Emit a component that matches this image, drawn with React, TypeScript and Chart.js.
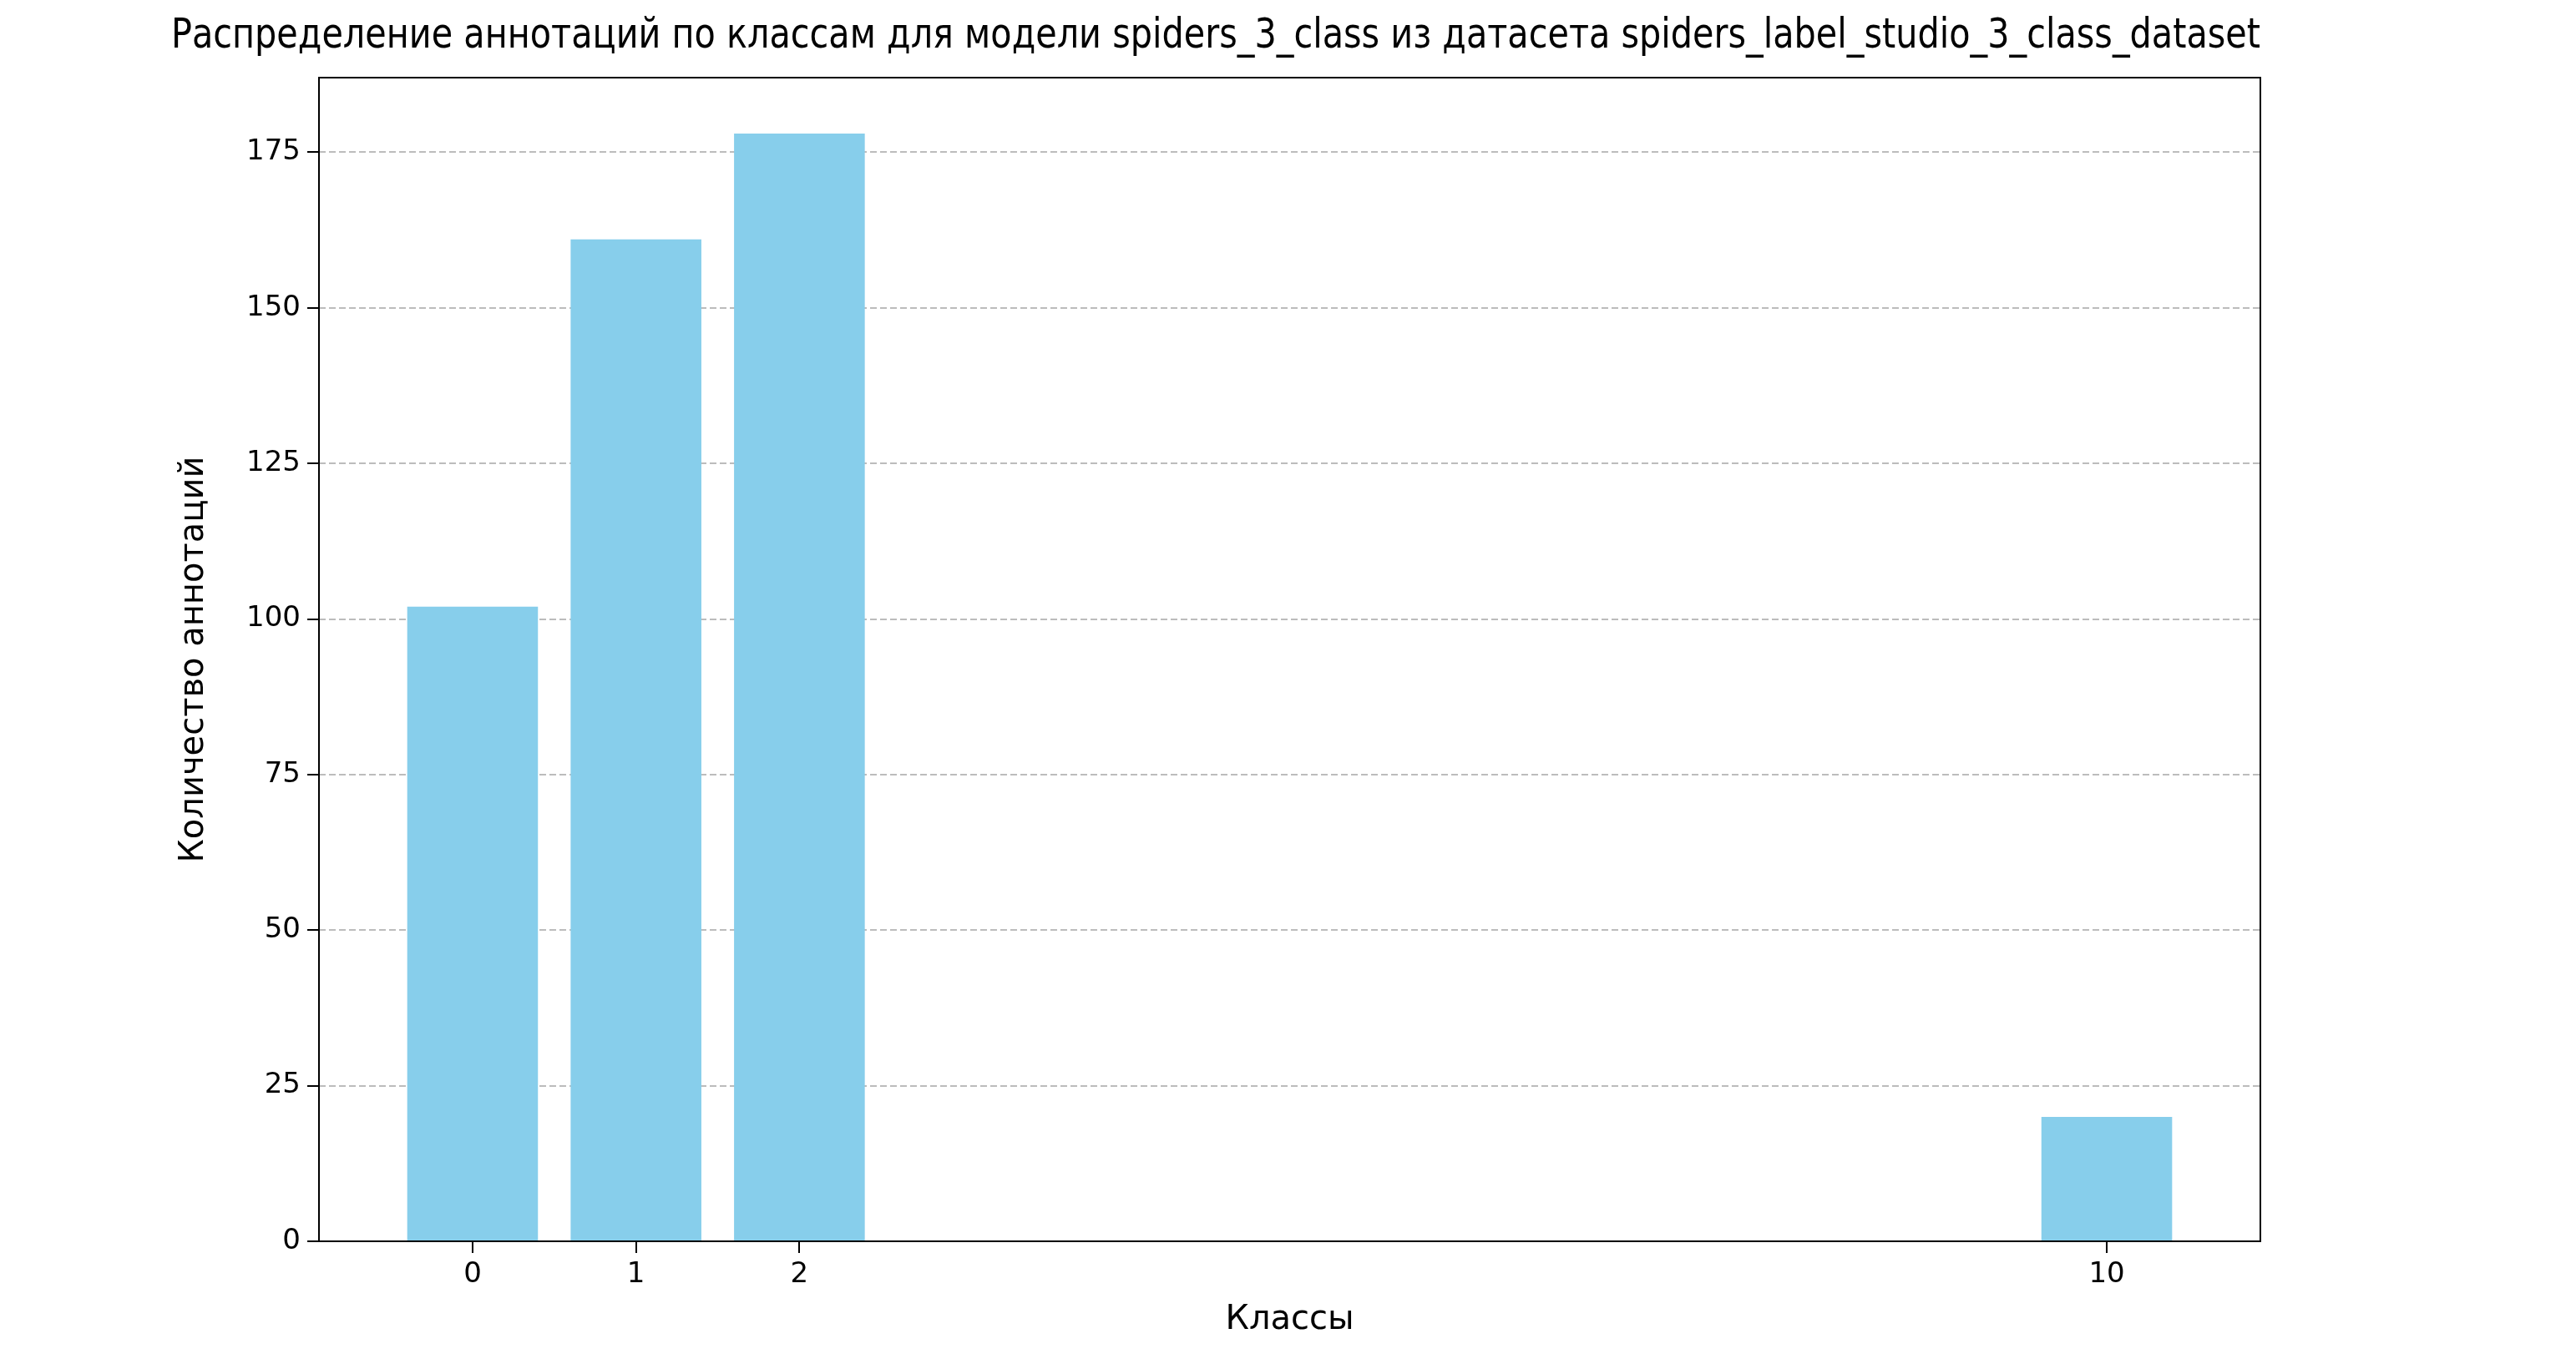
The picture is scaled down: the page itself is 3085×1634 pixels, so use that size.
import React, { useEffect, useRef } from 'react';
import { Chart, registerables } from 'chart.js';

Chart.register(...registerables);

const classes = [0, 1, 2, 10];
const counts = [102, 161, 178, 20];
const yTicks = [0, 25, 50, 75, 100, 125, 150, 175];

const FONT = "'DejaVu Sans', sans-serif";

const frame = {
  id: 'frame',
  afterDraw(chart: Chart) {
    const { ctx, chartArea: a } = chart;
    ctx.save();
    ctx.strokeStyle = '#000';
    ctx.lineWidth = 2;
    ctx.strokeRect(a.left, a.top, a.right - a.left, a.bottom - a.top);
    ctx.restore();
  }
};

export default function App() {
  const ref = useRef<HTMLCanvasElement>(null);

  useEffect(() => {
    if (!ref.current) return;
    const chart = new Chart(ref.current, {
      type: 'bar',
      data: {
        datasets: [{
          data: classes.map((c, i) => ({ x: c, y: counts[i] })),
          backgroundColor: '#87CEEB',
          barPercentage: 0.8,
          categoryPercentage: 1
        }]
      },
      plugins: [frame],
      options: {
        animation: false,
        responsive: false,
        layout: { padding: { left: 205, right: 378, bottom: 24 } },
        plugins: {
          legend: { display: false },
          tooltip: { enabled: false },
          title: {
            display: true,
            text: 'Распределение аннотаций по классам для модели spiders_3_class из датасета spiders_label_studio_3_class_dataset',
            font: { family: FONT, size: 50, weight: 'normal' },
            color: '#000',
            padding: { top: 14, bottom: 19 }
          }
        },
        scales: {
          x: {
            type: 'linear',
            offset: false,
            min: -0.94,
            max: 10.94,
            afterBuildTicks: (s: any) => { s.ticks = classes.map(v => ({ value: v })); },
            afterFit: (s: any) => { s.height = 123; },
            ticks: { color: '#000', font: { family: FONT, size: 34 }, padding: 6 },
            grid: { offset: false, drawOnChartArea: false, tickLength: 14, color: '#000', lineWidth: 2 },
            border: { display: false },
            title: { display: true, text: 'Классы', color: '#000', font: { family: FONT, size: 40 } }
          },
          y: {
            min: 0,
            max: 187,
            afterBuildTicks: (s: any) => { s.ticks = yTicks.map(v => ({ value: v })); },
            afterFit: (s: any) => { s.width = 177; },
            ticks: { color: '#000', font: { family: FONT, size: 34 }, padding: 8 },
            grid: {
              color: 'rgba(160,160,160,0.7)',
              lineWidth: 2,
              tickLength: 14,
              tickColor: '#000',
              tickBorderDash: []
            },
            border: { display: false, dash: [8, 4] },
            title: { display: true, text: 'Количество аннотаций', color: '#000', font: { family: FONT, size: 40 } }
          }
        }
      }
    });
    return () => chart.destroy();
  }, []);

  return (
    <div style={{ position: 'absolute', left: 0, top: 0, width: 3085, height: 1634, background: '#fff' }}>
      <canvas ref={ref} width={3085} height={1634} style={{ width: 3085, height: 1634 }} />
    </div>
  );
}
